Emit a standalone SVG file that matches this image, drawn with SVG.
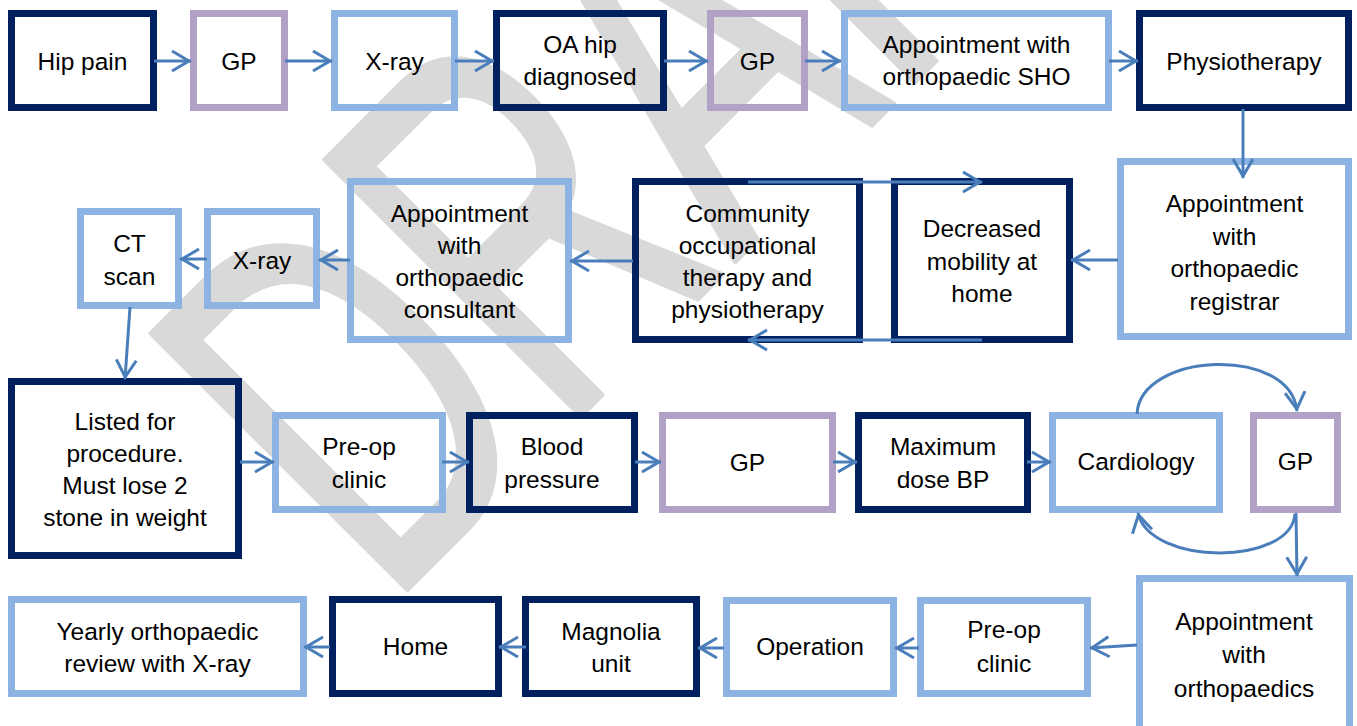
<svg xmlns="http://www.w3.org/2000/svg" width="1357" height="726" viewBox="0 0 1357 726">
  <defs>
    <style>
      .box rect { fill: none; stroke-width: 7; }
      .dk rect { stroke: #002060; }
      .lb rect { stroke: #8db3e2; }
      .lv rect { stroke: #b2a1c7; }
      .box text { font-family: "Liberation Sans", Arial, sans-serif; font-size: 24.5px; fill: #000; text-anchor: middle; }
      #connectors path { fill: none; stroke: #4a7ebb; stroke-width: 3; marker-end: url(#ah); }
      .wm { font-family: "Liberation Sans", Arial, sans-serif; font-size: 340px; fill: #d9d9d9; stroke: #d9d9d9; stroke-width: 3; stroke-linejoin: round; }
    </style>
    <marker id="ah" markerUnits="userSpaceOnUse" viewBox="-22 -13 26 26" markerWidth="26" markerHeight="26" refX="0" refY="0" orient="auto" overflow="visible">
      <path d="M-19,-10 L-2,0 L-19,10" fill="none" stroke="#4a7ebb" stroke-width="3"/>
    </marker>
  </defs>

  <!-- background watermark: stretched diagonal DRAFT -->
  <g id="watermark">
    <text class="wm" transform="translate(387,610) rotate(-45) scale(1,1.55)">DRAFT</text>
  </g>

  <!-- row 1 -->
  <g id="n-hip-pain" class="box dk"><rect x="11.5" y="13.5" width="142" height="94"/><text x="82.5" y="70">Hip pain</text></g>
  <g id="n-gp-1" class="box lv"><rect x="193.5" y="13.5" width="91" height="94"/><text x="239" y="70">GP</text></g>
  <g id="n-xray-1" class="box lb"><rect x="334.5" y="13.5" width="120" height="94"/><text x="394.5" y="70">X-ray</text></g>
  <g id="n-oa-hip" class="box dk"><rect x="496.5" y="13.5" width="167" height="94"/><text x="580" y="53">OA hip</text><text x="580" y="85">diagnosed</text></g>
  <g id="n-gp-2" class="box lv"><rect x="710.5" y="13.5" width="94" height="94"/><text x="757.5" y="70">GP</text></g>
  <g id="n-sho" class="box lb"><rect x="844.5" y="13.5" width="264" height="94"/><text x="976.5" y="53">Appointment with</text><text x="976.5" y="85">orthopaedic SHO</text></g>
  <g id="n-physio" class="box dk"><rect x="1139.5" y="13.5" width="209" height="94"/><text x="1244" y="70">Physiotherapy</text></g>

  <!-- row 2 -->
  <g id="n-registrar" class="box lb"><rect x="1120.5" y="161.5" width="228" height="175"/><text x="1234.5" y="212">Appointment</text><text x="1234.5" y="244.5">with</text><text x="1234.5" y="277">orthopaedic</text><text x="1234.5" y="309.5">registrar</text></g>
  <g id="n-decreased" class="box dk"><rect x="894.5" y="181.5" width="175" height="158"/><text x="982" y="237">Decreased</text><text x="982" y="270">mobility at</text><text x="982" y="302">home</text></g>
  <g id="n-community" class="box dk"><rect x="635.5" y="181.5" width="224" height="158"/><text x="747.5" y="222">Community</text><text x="747.5" y="254">occupational</text><text x="747.5" y="286">therapy and</text><text x="747.5" y="318">physiotherapy</text></g>
  <g id="n-consultant" class="box lb"><rect x="350.5" y="181.5" width="218" height="158"/><text x="459.5" y="222">Appointment</text><text x="459.5" y="254">with</text><text x="459.5" y="286">orthopaedic</text><text x="459.5" y="318">consultant</text></g>
  <g id="n-xray-2" class="box lb"><rect x="207.5" y="211.5" width="109" height="94"/><text x="262" y="269">X-ray</text></g>
  <g id="n-ct" class="box lb"><rect x="80.5" y="211.5" width="98" height="94"/><text x="129.5" y="252">CT</text><text x="129.5" y="285">scan</text></g>

  <!-- row 3 -->
  <g id="n-listed" class="box dk"><rect x="11.5" y="381.5" width="227" height="174"/><text x="125" y="430">Listed for</text><text x="125" y="462">procedure.</text><text x="125" y="494">Must lose 2</text><text x="125" y="526">stone in weight</text></g>
  <g id="n-preop-1" class="box lb"><rect x="275.5" y="415.5" width="167" height="94"/><text x="359" y="455">Pre-op</text><text x="359" y="488">clinic</text></g>
  <g id="n-blood" class="box dk"><rect x="469.5" y="415.5" width="165" height="94"/><text x="552" y="455">Blood</text><text x="552" y="488">pressure</text></g>
  <g id="n-gp-3" class="box lv"><rect x="662.5" y="415.5" width="170" height="94"/><text x="747.5" y="471">GP</text></g>
  <g id="n-maxbp" class="box dk"><rect x="858.5" y="415.5" width="169" height="94"/><text x="943" y="455">Maximum</text><text x="943" y="488">dose BP</text></g>
  <g id="n-cardiology" class="box lb"><rect x="1052.5" y="415.5" width="167" height="94"/><text x="1136" y="470">Cardiology</text></g>
  <g id="n-gp-4" class="box lv"><rect x="1253.5" y="415.5" width="84" height="94"/><text x="1295.5" y="470">GP</text></g>

  <!-- row 4 -->
  <g id="n-orthopaedics" class="box lb"><rect x="1139.5" y="578.5" width="210" height="160"/><text x="1244" y="630">Appointment</text><text x="1244" y="663">with</text><text x="1244" y="697">orthopaedics</text></g>
  <g id="n-preop-2" class="box lb"><rect x="920.5" y="600.5" width="167" height="93"/><text x="1004" y="638">Pre-op</text><text x="1004" y="672">clinic</text></g>
  <g id="n-operation" class="box lb"><rect x="726.5" y="600.5" width="167" height="93"/><text x="810" y="655">Operation</text></g>
  <g id="n-magnolia" class="box dk"><rect x="525.5" y="599.5" width="171" height="94"/><text x="611" y="640">Magnolia</text><text x="611" y="672">unit</text></g>
  <g id="n-home" class="box dk"><rect x="332.5" y="599.5" width="166" height="94"/><text x="415.5" y="655">Home</text></g>
  <g id="n-yearly" class="box lb"><rect x="11.5" y="599.5" width="292" height="94"/><text x="157.5" y="640">Yearly orthopaedic</text><text x="157.5" y="672">review with X-ray</text></g>

  <!-- connectors -->
  <g id="connectors">
    <path d="M154,61 H191"/>
    <path d="M285,61 H332"/>
    <path d="M455,61 H494"/>
    <path d="M664,61 H708"/>
    <path d="M805,61 H841"/>
    <path d="M1109,61 H1138"/>
    <path d="M1243,109 V178"/>
    <path d="M1118,260 H1071"/>
    <path d="M748,182 H982"/>
    <path d="M982,340 H748"/>
    <path d="M633,261 H570"/>
    <path d="M350,260 H319"/>
    <path d="M207,259 H180"/>
    <path d="M130,307 L125,379"/>
    <path d="M240,462 H274"/>
    <path d="M442,462 H469"/>
    <path d="M635,462 H661"/>
    <path d="M833,462 H857"/>
    <path d="M1027,462 H1051"/>
    <path d="M1137,414 C1140,352 1290,345 1297,411"/>
    <path d="M1295,514 C1291,566 1150,566 1138,513"/>
    <path d="M1296,513 L1297,576"/>
    <path d="M1137,645 L1090,648"/>
    <path d="M919,648 H895"/>
    <path d="M724,648 H698"/>
    <path d="M526,647 H499"/>
    <path d="M330,647 H304"/>
  </g>
</svg>
